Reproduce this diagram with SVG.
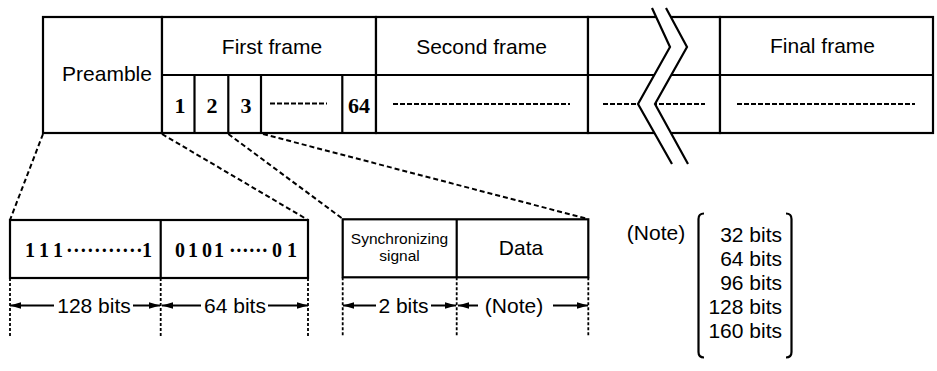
<svg xmlns="http://www.w3.org/2000/svg" width="937" height="371" viewBox="0 0 937 371">
<style>
  .ln{stroke:#000;stroke-width:2.2;fill:none}
  .bx{stroke:#000;stroke-width:2.2;fill:#fff}
  .lbl{font-family:"Liberation Sans",Arial,sans-serif;font-size:21px;fill:#000}
  .sm{font-family:"Liberation Sans",Arial,sans-serif;font-size:15.5px;fill:#000}
  .num{font-family:"Liberation Serif","Times New Roman",serif;font-weight:bold;font-size:22px;fill:#000}
  .bin{font-family:"Liberation Serif","Times New Roman",serif;font-weight:bold;font-size:20px;fill:#000}
  .dash{stroke:#000;stroke-width:2;stroke-dasharray:5 2;fill:none}
  .proj{stroke:#000;stroke-width:2;stroke-dasharray:5 3;fill:none}
  .ext{stroke:#000;stroke-width:1.8;stroke-dasharray:3 2;fill:none}
  .dim{stroke:#000;stroke-width:2;fill:none;marker-end:url(#ah)}
</style>
<defs>
  <marker id="ah" markerUnits="userSpaceOnUse" markerWidth="12" markerHeight="8" refX="11" refY="4" orient="auto">
    <path d="M0,0.8 L11,4 L0,7.2 z" fill="#000"/>
  </marker>
</defs>
<rect width="937" height="371" fill="#fff"/>

<g id="preamble">
  <rect class="bx" x="43" y="17" width="119" height="116"/>
  <text class="lbl" x="107" y="81" text-anchor="middle">Preamble</text>
</g>

<g id="first-frame">
  <rect class="bx" x="162" y="17" width="214" height="116"/>
  <line class="ln" x1="162" y1="75" x2="376" y2="75"/>
  <line class="ln" x1="194.5" y1="75" x2="194.5" y2="133"/>
  <line class="ln" x1="228.3" y1="75" x2="228.3" y2="133"/>
  <line class="ln" x1="261" y1="75" x2="261" y2="133"/>
  <line class="ln" x1="342.3" y1="75" x2="342.3" y2="133"/>
  <text class="lbl" x="272" y="54" text-anchor="middle">First frame</text>
  <text class="num" x="180" y="113" text-anchor="middle">1</text>
  <text class="num" x="212" y="113" text-anchor="middle">2</text>
  <text class="num" x="246" y="113" text-anchor="middle">3</text>
  <line class="dash" x1="270" y1="103.5" x2="327" y2="103.5"/>
  <text class="num" x="359" y="113" text-anchor="middle">64</text>
</g>

<g id="second-frame">
  <rect class="bx" x="376" y="17" width="212" height="116"/>
  <line class="ln" x1="376" y1="75" x2="588" y2="75"/>
  <text class="lbl" x="481.5" y="54" text-anchor="middle">Second frame</text>
  <line class="dash" x1="393" y1="104" x2="570" y2="104"/>
</g>

<g id="omitted-frames">
  <rect class="bx" x="588" y="17" width="132" height="116"/>
  <line class="ln" x1="588" y1="75" x2="720" y2="75"/>
  <line class="dash" x1="603" y1="104" x2="705" y2="104"/>
</g>

<g id="final-frame">
  <rect class="bx" x="720" y="17" width="213" height="116"/>
  <line class="ln" x1="720" y1="75" x2="933" y2="75"/>
  <text class="lbl" x="822.5" y="53" text-anchor="middle">Final frame</text>
  <line class="dash" x1="737" y1="104" x2="915" y2="104"/>
</g>

<g id="break-mark">
  <polygon points="652,8 670,47 638,104 672,164 688,164 655,104 687,47 666,8" fill="#fff" stroke="none"/>
  <polyline class="ln" points="652,8 670,47 638,104 672,164"/>
  <polyline class="ln" points="666,8 687,47 655,104 688,164"/>
</g>

<g id="connectors">
  <line class="proj" x1="43" y1="134" x2="10" y2="220"/>
  <line class="proj" x1="162" y1="134" x2="308" y2="220"/>
  <line class="proj" x1="228.3" y1="134" x2="343" y2="219"/>
  <line class="proj" x1="263" y1="134" x2="588" y2="219"/>
</g>

<g id="preamble-detail">
  <rect class="bx" x="10" y="220" width="298" height="58"/>
  <line class="ln" x1="160.7" y1="220" x2="160.7" y2="278"/>
  <text class="bin" y="257" x="25 39 53 66 73 80 87 94 101 108 115 122 129 136 142">111···········1</text>
  <text class="bin" y="257" x="175 188 202 214 229 235.5 242 248.5 255 261.5 272 287">0101······01</text>
</g>

<g id="word-detail">
  <rect class="bx" x="342.7" y="219.3" width="245.6" height="58"/>
  <line class="ln" x1="456.7" y1="219.3" x2="456.7" y2="277.3"/>
  <text class="sm" x="399.5" y="244" text-anchor="middle">Synchronizing</text>
  <text class="sm" x="399.5" y="261" text-anchor="middle">signal</text>
  <text class="lbl" x="521" y="255" text-anchor="middle">Data</text>
</g>

<g id="dimensions">
  <line class="ext" x1="10" y1="278" x2="10" y2="336"/>
  <line class="ext" x1="160.7" y1="278" x2="160.7" y2="336"/>
  <line class="ext" x1="308" y1="278" x2="308" y2="336"/>
  <line class="dim" x1="54" y1="305.5" x2="10" y2="305.5"/>
  <line class="dim" x1="133" y1="305.5" x2="160" y2="305.5"/>
  <text class="lbl" x="94" y="313" text-anchor="middle">128 bits</text>
  <line class="dim" x1="201" y1="305.5" x2="162" y2="305.5"/>
  <line class="dim" x1="268" y1="305.5" x2="308" y2="305.5"/>
  <text class="lbl" x="235" y="313" text-anchor="middle">64 bits</text>

  <line class="ext" x1="342.7" y1="277.3" x2="342.7" y2="337"/>
  <line class="ext" x1="456.7" y1="277.3" x2="456.7" y2="337"/>
  <line class="ext" x1="588.3" y1="277.3" x2="588.3" y2="337"/>
  <line class="dim" x1="376" y1="305.5" x2="343" y2="305.5"/>
  <line class="dim" x1="431" y1="305.5" x2="456" y2="305.5"/>
  <text class="lbl" x="403.5" y="313" text-anchor="middle">2 bits</text>
  <line class="dim" x1="478" y1="305.5" x2="458" y2="305.5"/>
  <line class="dim" x1="553" y1="305.5" x2="588" y2="305.5"/>
  <text class="lbl" x="514" y="313" text-anchor="middle">(Note)</text>
</g>

<g id="note">
  <text class="lbl" x="656" y="240" text-anchor="middle">(Note)</text>
  <path class="ln" d="M704,213.5 Q698.5,213.5 698.5,219 L698.5,352 Q698.5,357.5 704,357.5"/>
  <path class="ln" d="M786,213.5 Q791.5,213.5 791.5,219 L791.5,352 Q791.5,357.5 786,357.5"/>
  <text class="lbl" x="782" y="242" text-anchor="end">32 bits</text>
  <text class="lbl" x="782" y="266" text-anchor="end">64 bits</text>
  <text class="lbl" x="782" y="290" text-anchor="end">96 bits</text>
  <text class="lbl" x="782" y="314" text-anchor="end">128 bits</text>
  <text class="lbl" x="782" y="338" text-anchor="end">160 bits</text>
</g>
</svg>
